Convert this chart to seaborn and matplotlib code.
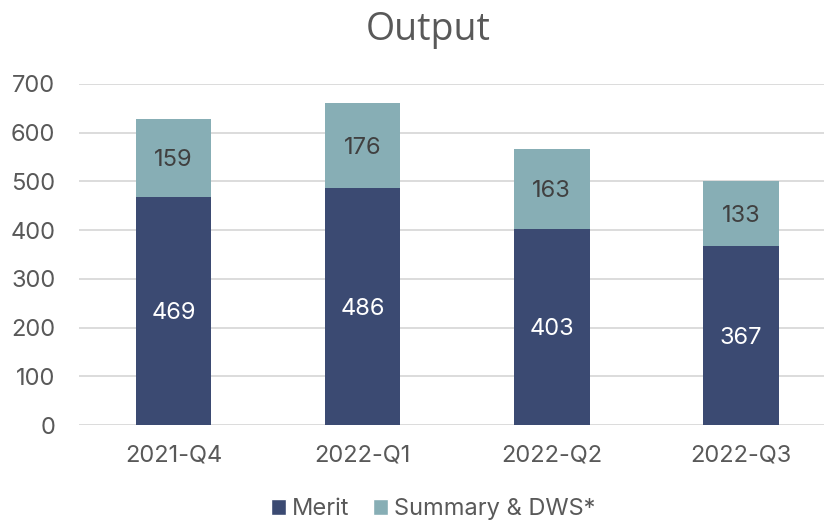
import matplotlib
matplotlib.use("Agg")
import matplotlib.pyplot as plt
import seaborn as sns
import pandas as pd
from matplotlib.patches import Patch

quarters = ["2021-Q4", "2022-Q1", "2022-Q2", "2022-Q3"]
merit = [469, 486, 403, 367]
summary = [159, 176, 163, 133]
series_names = ["Merit", "Summary & DWS*"]
title = "Output"

navy = "#3B4A72"
teal = "#87AEB5"
txt = "#595959"

sns.set_theme(style="white")
plt.rcParams["font.family"] = ["Inter", "DejaVu Sans"]

df = pd.DataFrame({"quarter": quarters, "merit": merit, "summary": summary})
df["total"] = df["merit"] + df["summary"]

fig = plt.figure(figsize=(8.24, 5.22), dpi=100)
ax = fig.add_axes([79/824, 97/522, 745/824, 341/522])

sns.barplot(data=df, x="quarter", y="total", color=teal, width=0.40, ax=ax,
            saturation=1, zorder=3, linewidth=0)
sns.barplot(data=df, x="quarter", y="merit", color=navy, width=0.40, ax=ax,
            saturation=1, zorder=3, linewidth=0)

for i, (m, s) in enumerate(zip(merit, summary)):
    ax.text(i, m / 2, str(m), ha="center", va="center_baseline", color="white", fontsize=17, zorder=5)
    ax.text(i, m + s / 2, str(s), ha="center", va="center_baseline", color="#404040", fontsize=17, zorder=5)

ax.set_ylim(0, 700)
ax.set_xlim(-0.5, 3.44)
ax.set_yticks(range(0, 701, 100))
ax.yaxis.grid(True, color="#D9D9D9", linewidth=1.3, zorder=0)
ax.set_axisbelow(True)
for sp in ax.spines.values():
    sp.set_visible(False)
ax.set_xlabel("")
ax.set_ylabel("")
ax.tick_params(axis="both", length=0, labelsize=17, colors=txt)
ax.tick_params(axis="x", pad=14)
ax.tick_params(axis="y", pad=17)

fig.text(428/824, 1 - 30/522, title, ha="center", va="center", fontsize=27,
         color=txt, family=["Open Sans", "DejaVu Sans"])

handles = [Patch(facecolor=navy, label=series_names[0]),
           Patch(facecolor=teal, label=series_names[1])]
fig.legend(handles=handles, loc="center", bbox_to_anchor=(433/824, 1 - 509/522),
           ncol=2, frameon=False, fontsize=17, handlelength=0.65, handleheight=0.65,
           handletextpad=0.25, columnspacing=1.0, labelcolor=txt)

fig.savefig("out.png", dpi=100)
